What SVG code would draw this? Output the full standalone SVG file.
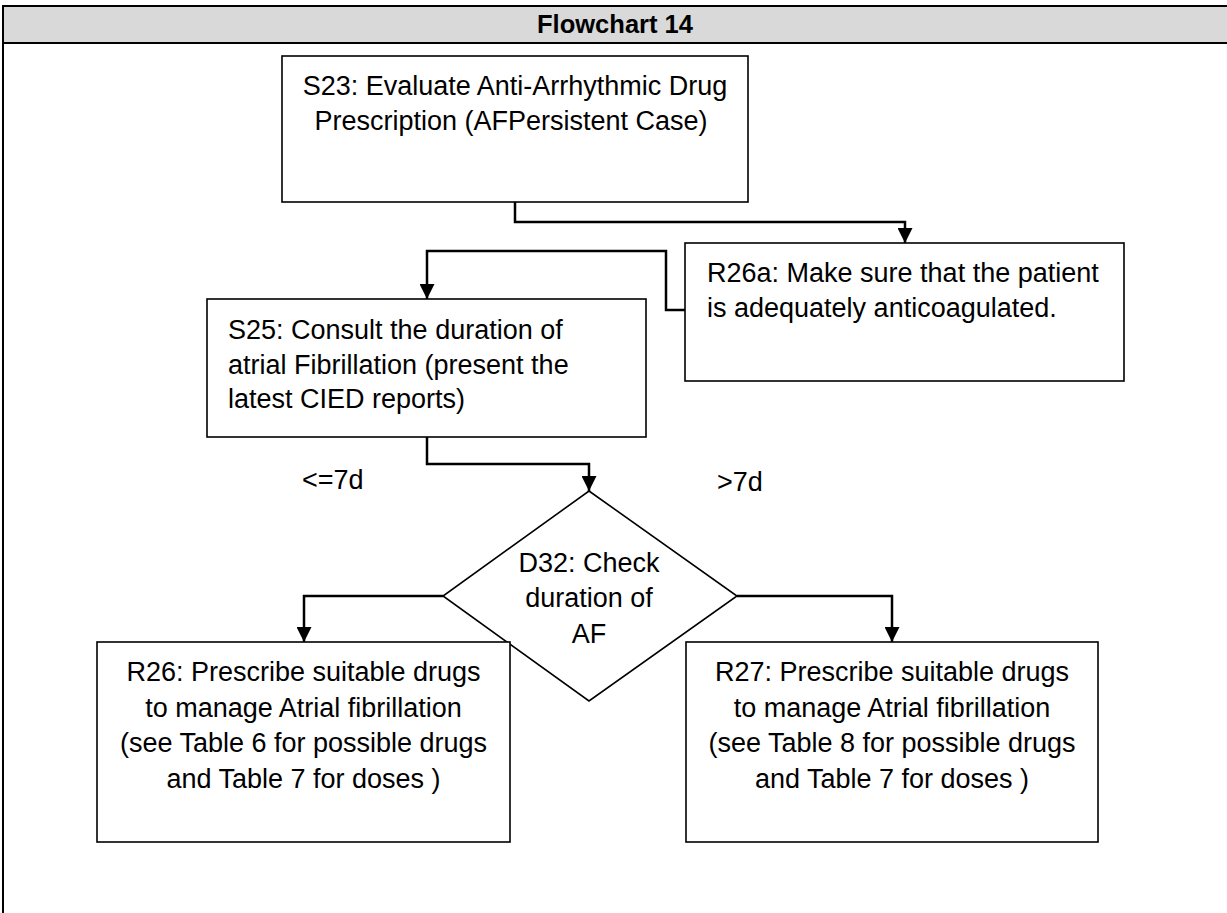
<svg xmlns="http://www.w3.org/2000/svg" width="1227" height="913" viewBox="0 0 1227 913">
  <style>
    .box { fill: #ffffff; stroke: #000000; stroke-width: 1.6; }
    .conn { fill: none; stroke: #000000; stroke-width: 2.5; }
    .txt { font-family: "Liberation Sans", Arial, sans-serif; font-size: 27px; fill: #000000; }
    .mid { text-anchor: middle; }
    .title { font-family: "Liberation Sans", Arial, sans-serif; font-size: 25.5px; font-weight: bold; text-anchor: middle; fill: #000000; }
  </style>
  <defs>
    <marker id="arrow" markerWidth="15" markerHeight="15" refX="15" refY="7.5" orient="auto" markerUnits="userSpaceOnUse">
      <path d="M0,0 L15,7.5 L0,15 Z" fill="#000000"/>
    </marker>
  </defs>

  <rect x="0" y="0" width="1227" height="913" fill="#ffffff"/>

  <!-- table frame with header row -->
  <g id="frame">
    <rect x="3" y="6" width="1226" height="37" fill="#d9d9d9"/>
    <line x1="2" y1="6" x2="1227" y2="6" stroke="#000" stroke-width="2.2"/>
    <line x1="2" y1="43" x2="1227" y2="43" stroke="#000" stroke-width="2.2"/>
    <line x1="3" y1="5" x2="3" y2="913" stroke="#000" stroke-width="2"/>
    <text class="title" x="615" y="33">Flowchart 14</text>
  </g>

  <!-- connectors -->
  <g id="connectors">
    <path class="conn" d="M515,202 V222 H905 V243" marker-end="url(#arrow)"/>
    <path class="conn" d="M685,310 H666 V251 H427 V299" marker-end="url(#arrow)"/>
    <path class="conn" d="M427,437 V464 H589 V491" marker-end="url(#arrow)"/>
    <path class="conn" d="M443,596 H304 V642" marker-end="url(#arrow)"/>
    <path class="conn" d="M737,596 H892 V642" marker-end="url(#arrow)"/>
  </g>

  <g id="S23">
    <rect class="box" x="282" y="56" width="466" height="146"/>
    <text class="txt mid" x="515" y="95">S23: Evaluate Anti-Arrhythmic Drug</text>
    <text class="txt mid" x="511" y="130">Prescription (AFPersistent Case)</text>
  </g>

  <g id="R26a">
    <rect class="box" x="685" y="243" width="439" height="138"/>
    <text class="txt" x="707" y="282">R26a: Make sure that the patient</text>
    <text class="txt" x="707" y="317">is adequately anticoagulated.</text>
  </g>

  <g id="S25">
    <rect class="box" x="207" y="299" width="439" height="138"/>
    <text class="txt" x="228" y="339">S25: Consult the duration of</text>
    <text class="txt" x="228" y="373.5">atrial Fibrillation (present the</text>
    <text class="txt" x="228" y="408">latest CIED reports)</text>
  </g>

  <g id="D32">
    <polygon class="box" points="589,491 737,596 589,701 443,596"/>
    <text class="txt mid" x="589" y="572">D32: Check</text>
    <text class="txt mid" x="589" y="607">duration of</text>
    <text class="txt mid" x="589" y="643">AF</text>
  </g>

  <g id="labels">
    <text class="txt" x="302" y="489">&lt;=7d</text>
    <text class="txt" x="717" y="491">&gt;7d</text>
  </g>

  <g id="R26">
    <rect class="box" x="97" y="642" width="413" height="200"/>
    <text class="txt mid" x="303.5" y="681">R26:  Prescribe suitable drugs</text>
    <text class="txt mid" x="303.5" y="716.5">to manage Atrial fibrillation</text>
    <text class="txt mid" x="303.5" y="752">(see Table 6 for possible drugs</text>
    <text class="txt mid" x="303.5" y="787.5">and Table 7 for doses )</text>
  </g>

  <g id="R27">
    <rect class="box" x="686" y="642" width="412" height="200"/>
    <text class="txt mid" x="892" y="681">R27:  Prescribe suitable drugs</text>
    <text class="txt mid" x="892" y="716.5">to manage Atrial fibrillation</text>
    <text class="txt mid" x="892" y="752">(see Table 8 for possible drugs</text>
    <text class="txt mid" x="892" y="787.5">and Table 7 for doses )</text>
  </g>
</svg>
